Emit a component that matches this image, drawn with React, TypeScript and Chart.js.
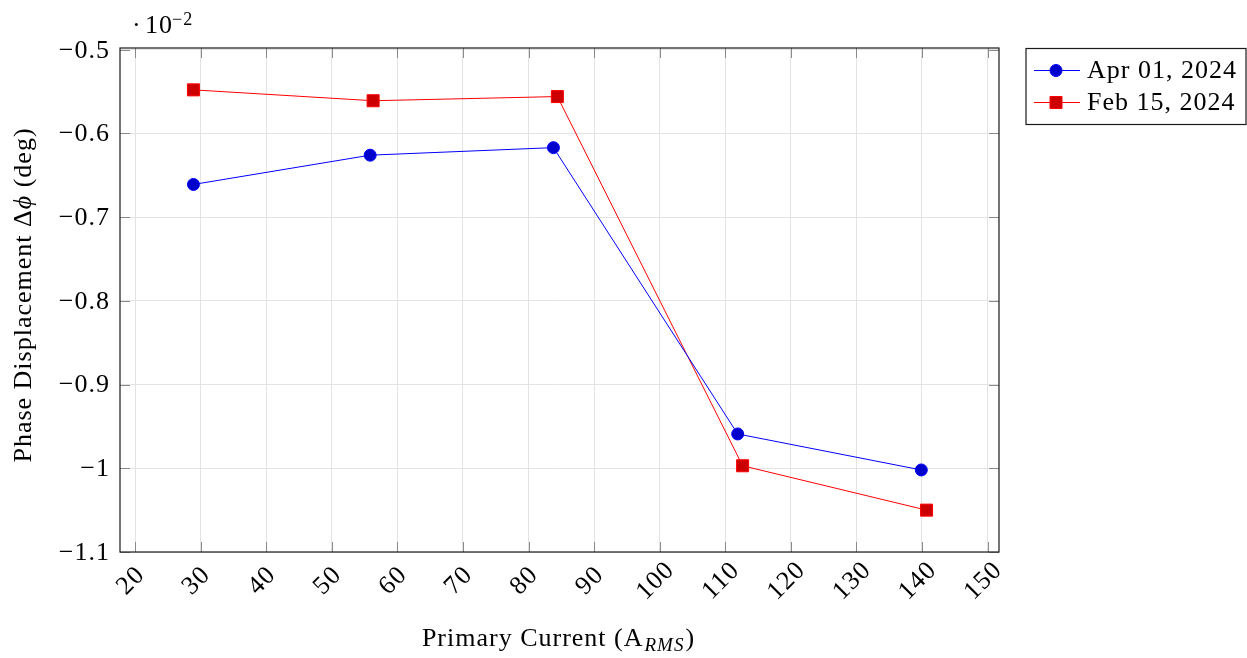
import React, { useEffect, useRef } from "react";
import { Chart, registerables } from "chart.js";

Chart.register(...registerables);

const FONT = '"Liberation Serif", "Times New Roman", serif';

const aprCurrent = [28.9, 55.85, 83.8, 111.9, 139.9];
const aprPhase = [-0.661, -0.626, -0.617, -0.959, -1.002];
const febCurrent = [28.9, 56.3, 84.4, 112.65, 140.7];
const febPhase = [-0.548, -0.561, -0.556, -0.997, -1.05];
const seriesLabels = ["Apr 01, 2024", "Feb 15, 2024"];
const xTicks = [20, 30, 40, 50, 60, 70, 80, 90, 100, 110, 120, 130, 140, 150];
const yTicks = [-1.1, -1.0, -0.9, -0.8, -0.7, -0.6, -0.5];

const BLUE_LINE = "#0000ff";
const BLUE_FILL = "#0000cc";
const RED_LINE = "#ff0000";
const RED_FILL = "#cc0000";

function fmtY(v: number): string {
  const a = Math.abs(Number(v.toFixed(1)));
  return (v < 0 ? "\u2212" : "") + String(a);
}

const pgfPlugin = {
  id: "pgfDecor",
  afterDraw(chart: any) {
    const { ctx, chartArea: a, scales } = chart;
    const xs = scales.x;
    const ys = scales.y;
    ctx.save();

    // inner tick marks on all four sides
    ctx.strokeStyle = "#8a8a8a";
    ctx.lineWidth = 1;
    ctx.beginPath();
    for (const v of xTicks) {
      const px = Math.round(xs.getPixelForValue(v)) + 0.5;
      ctx.moveTo(px, a.bottom);
      ctx.lineTo(px, a.bottom - 10);
      ctx.moveTo(px, a.top);
      ctx.lineTo(px, a.top + 10);
    }
    for (const v of yTicks) {
      const py = Math.round(ys.getPixelForValue(v)) + 0.5;
      ctx.moveTo(a.left, py);
      ctx.lineTo(a.left + 10, py);
      ctx.moveTo(a.right, py);
      ctx.lineTo(a.right - 10, py);
    }
    ctx.stroke();

    // frame
    ctx.strokeStyle = "#1a1a1a";
    ctx.lineWidth = 1.2;
    ctx.strokeRect(a.left, a.top, a.right - a.left, a.bottom - a.top);

    (ctx as any).letterSpacing = "1px";

    // y tick labels
    ctx.fillStyle = "#000";
    ctx.font = `26px ${FONT}`;
    ctx.textAlign = "right";
    ctx.textBaseline = "middle";
    for (const v of yTicks) {
      const py = ys.getPixelForValue(v);
      ctx.fillText(fmtY(v), a.left - 10, py + 1);
    }

    // x tick labels (rotated 45deg)
    ctx.textAlign = "center";
    for (const v of xTicks) {
      const px = xs.getPixelForValue(v);
      ctx.save();
      ctx.translate(px - 4, 581);
      ctx.rotate(-Math.PI / 4);
      ctx.fillText(String(v), 0, 0);
      ctx.restore();
    }

    // exponent label
    ctx.textAlign = "left";
    ctx.textBaseline = "alphabetic";
    ctx.font = `26px ${FONT}`;
    ctx.fillText("\u00B7", 132, 33);
    ctx.fillText("10", 145, 33);
    ctx.font = `18px ${FONT}`;
    ctx.fillText("\u22122", 172, 25);

    // x axis title
    ctx.font = `26px ${FONT}`;
    const p1 = "Primary Current (A";
    const p2 = "RMS";
    const p3 = ")";
    const w1 = ctx.measureText(p1).width;
    ctx.font = `italic 19px ${FONT}`;
    const w2 = ctx.measureText(p2).width;
    ctx.font = `26px ${FONT}`;
    const w3 = ctx.measureText(p3).width;
    const cx = (a.left + a.right) / 2 - 1;
    const x0 = cx - (w1 + w2 + w3 + 2) / 2;
    const by = 646;
    ctx.fillText(p1, x0, by);
    ctx.font = `italic 19px ${FONT}`;
    ctx.fillText(p2, x0 + w1 + 1, by + 5);
    ctx.font = `26px ${FONT}`;
    ctx.fillText(p3, x0 + w1 + w2 + 2, by);

    // y axis title (rotated)
    const q1 = "Phase Displacement \u0394";
    const q2 = "\u03D5";
    const q3 = " (deg)";
    ctx.font = `26px ${FONT}`;
    const v1 = ctx.measureText(q1).width;
    const v3 = ctx.measureText(q3).width;
    ctx.font = `italic 26px ${FONT}`;
    const v2 = ctx.measureText(q2).width;
    ctx.save();
    ctx.translate(31, 295);
    ctx.rotate(-Math.PI / 2);
    const s0 = -(v1 + v2 + v3) / 2;
    ctx.font = `26px ${FONT}`;
    ctx.fillText(q1, s0, 0);
    ctx.font = `italic 26px ${FONT}`;
    ctx.fillText(q2, s0 + v1, 0);
    ctx.font = `26px ${FONT}`;
    ctx.fillText(q3, s0 + v1 + v2, 0);
    ctx.restore();

    // legend
    const lx = 1026;
    const ly = 48.5;
    const lw = 220;
    const lh = 76;
    ctx.fillStyle = "#fff";
    ctx.fillRect(lx, ly, lw, lh);
    ctx.strokeStyle = "#1a1a1a";
    ctx.lineWidth = 1.2;
    ctx.strokeRect(lx, ly, lw, lh);
    const rows = [
      { y: 70.5, line: BLUE_LINE, fill: BLUE_FILL, shape: "circle" },
      { y: 102.5, line: RED_LINE, fill: RED_FILL, shape: "rect" },
    ];
    rows.forEach((r, i) => {
      ctx.strokeStyle = r.line;
      ctx.lineWidth = 1;
      ctx.beginPath();
      ctx.moveTo(1034, r.y);
      ctx.lineTo(1080, r.y);
      ctx.stroke();
      ctx.fillStyle = r.fill;
      ctx.beginPath();
      if (r.shape === "circle") {
        ctx.arc(1056, r.y, 6, 0, Math.PI * 2);
      } else {
        ctx.rect(1050, r.y - 6, 12, 12);
      }
      ctx.fill();
      ctx.stroke();
      ctx.fillStyle = "#000";
      ctx.font = `26px ${FONT}`;
      ctx.textAlign = "left";
      ctx.textBaseline = "alphabetic";
      ctx.fillText(chart.data.datasets[i].label, 1087, r.y + 7.5);
    });

    ctx.restore();
  },
};

export default function App() {
  const ref = useRef<HTMLCanvasElement | null>(null);

  useEffect(() => {
    if (!ref.current) return;
    const chart = new Chart(ref.current, {
      type: "line",
      data: {
        datasets: [
          {
            label: seriesLabels[0],
            data: aprCurrent.map((x, i) => ({ x, y: aprPhase[i] })),
            borderColor: BLUE_LINE,
            backgroundColor: BLUE_FILL,
            pointBackgroundColor: BLUE_FILL,
            pointBorderColor: BLUE_LINE,
            pointBorderWidth: 1,
            pointStyle: "circle",
            pointRadius: 6,
            borderWidth: 1,
            tension: 0,
          },
          {
            label: seriesLabels[1],
            data: febCurrent.map((x, i) => ({ x, y: febPhase[i] })),
            borderColor: RED_LINE,
            backgroundColor: RED_FILL,
            pointBackgroundColor: RED_FILL,
            pointBorderColor: RED_LINE,
            pointBorderWidth: 1,
            pointStyle: "rect",
            pointRadius: 8.5,
            borderWidth: 1,
            tension: 0,
          },
        ],
      },
      options: {
        animation: false,
        responsive: true,
        maintainAspectRatio: false,
        layout: { padding: { left: 0, top: 48, right: 248, bottom: 0 } },
        plugins: {
          legend: { display: false },
          tooltip: { enabled: false },
          title: { display: false },
        },
        scales: {
          x: {
            type: "linear",
            min: 17.7,
            max: 151.75,
            afterBuildTicks: (s: any) => {
              s.ticks = xTicks.map((v) => ({ value: v }));
            },
            afterFit: (s: any) => {
              s.height = 106;
            },
            ticks: { display: false },
            grid: { color: "#e3e3e3", lineWidth: 1, drawTicks: false },
            border: { display: false },
          },
          y: {
            type: "linear",
            min: -1.1,
            max: -0.498,
            afterBuildTicks: (s: any) => {
              s.ticks = yTicks.map((v) => ({ value: v }));
            },
            afterFit: (s: any) => {
              s.width = 120;
            },
            ticks: { display: false },
            grid: { color: "#e3e3e3", lineWidth: 1, drawTicks: false },
            border: { display: false },
          },
        },
      },
      plugins: [pgfPlugin],
    });
    return () => chart.destroy();
  }, []);

  return (
    <div style={{ position: "absolute", left: 0, top: 0, width: 1247, height: 658, background: "#fff" }}>
      <canvas ref={ref} />
    </div>
  );
}
